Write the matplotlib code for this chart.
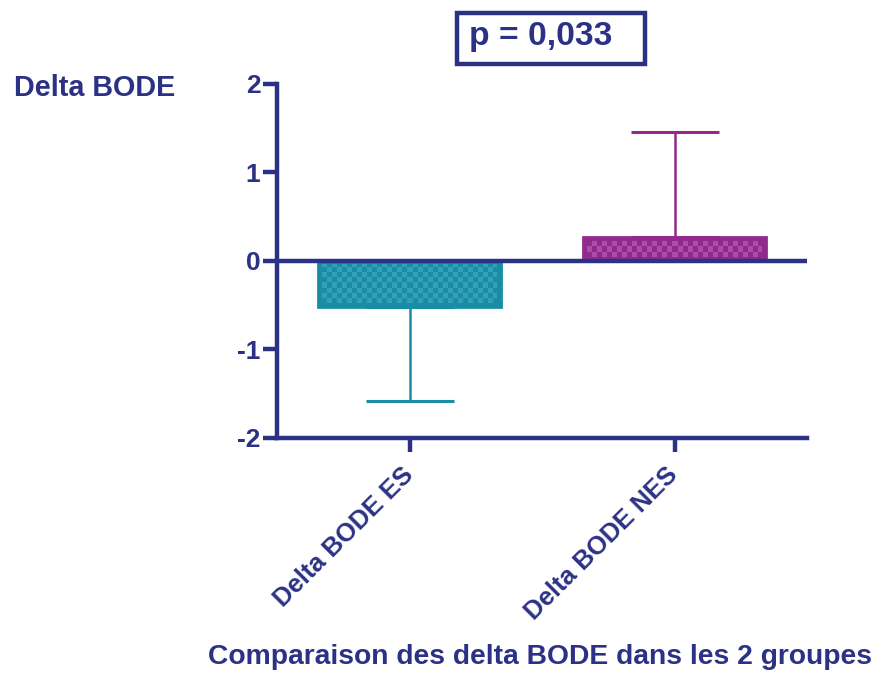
import numpy as np
import matplotlib.pyplot as plt
from matplotlib.patches import Rectangle

plt.rcParams['font.family'] = ['Liberation Sans', 'DejaVu Sans']
plt.rcParams['font.weight'] = 'bold'

# data
groups = ['Delta BODE ES', 'Delta BODE NES']
means = [-0.52, 0.27]
err_down = [1.06, 0.0]
err_up = [0.0, 1.19]
bar_colors = ['#1a8da6', '#922a8e']
light_colors = ['#33a0b8', '#ad4ea6']
yticks = [-2, -1, 0, 1, 2]

navy = '#2b3184'

fig = plt.figure(figsize=(8.82, 6.75), dpi=100)
ax = fig.add_axes([277/882, 1-438/675, 530/882, 354/675])
ax.set_xlim(-0.5, 1.5)
ax.set_ylim(-2, 2)

x = np.arange(len(groups))
w = 0.69

# error bars first so bars sit on top
for i in range(len(groups)):
    ax.errorbar(x[i], means[i], yerr=[[err_down[i]], [err_up[i]]], fmt='none',
                ecolor=bar_colors[i], elinewidth=1.8, capsize=32, capthick=2.2, zorder=1)

bars = ax.bar(x, means, width=w, color=bar_colors, edgecolor=bar_colors,
              linewidth=2, zorder=2)

# checkered fill inside each bar
from matplotlib.colors import ListedColormap
for i, b in enumerate(bars):
    x0, x1 = b.get_x(), b.get_x() + b.get_width()
    y0, y1 = sorted([b.get_y(), b.get_y() + b.get_height()])
    p0 = ax.transData.transform((x0, y0))
    p1 = ax.transData.transform((x1, y1))
    inset = 4
    wpx = int(p1[0] - p0[0]) - 2 * inset
    hpx = int(p1[1] - p0[1]) - 2 * inset
    sq = 5
    yy, xx = np.indices((hpx, wpx))
    checker = ((xx // sq + yy // sq) % 2).astype(float)
    dx = (x1 - x0) * inset / (p1[0] - p0[0])
    dy = (y1 - y0) * inset / (p1[1] - p0[1])
    ax.imshow(checker, extent=(x0 + dx, x1 - dx, y0 + dy, y1 - dy), origin='lower',
              cmap=ListedColormap([bar_colors[i], light_colors[i]]),
              interpolation='nearest', aspect='auto', zorder=3)

ax.set_xlim(-0.5, 1.5)
ax.set_ylim(-2, 2)

ax.axhline(0, color=navy, lw=3.2, zorder=4)

ax.set_yticks(yticks)
ax.set_yticklabels([str(v) for v in yticks])
ax.set_xticks(x)
ax.set_xticklabels(groups, rotation=45, ha='right', va='center', rotation_mode='anchor')

for s in ['top', 'right']:
    ax.spines[s].set_visible(False)
for s in ['left', 'bottom']:
    ax.spines[s].set_color(navy)
    ax.spines[s].set_linewidth(3.2)
ax.tick_params(colors=navy, width=3.2, length=10, labelsize=19, pad=2)
ax.tick_params(axis='x', labelsize=18.5, pad=14)
for t in ax.get_xticklabels() + ax.get_yticklabels():
    t.set_fontweight('bold')
    t.set_color(navy)

fig.text(14/882, 1-88/675, 'Delta BODE', color=navy, fontsize=20.7, fontweight='bold',
         ha='left', va='center')
fig.text(540/882, 1-657/675, 'Comparaison des delta BODE dans les 2 groupes', color=navy,
         fontsize=20.3, fontweight='bold', ha='center', va='center')

fig.patches.append(Rectangle((457/882, 1-64/675), 188/882, 51/675, transform=fig.transFigure,
                             fill=False, edgecolor=navy, linewidth=3.2))
fig.text(541/882, 1-37/675, 'p = 0,033', color=navy, fontsize=24.2, fontweight='bold',
         ha='center', va='center')

fig.savefig('out.png', dpi=100)
